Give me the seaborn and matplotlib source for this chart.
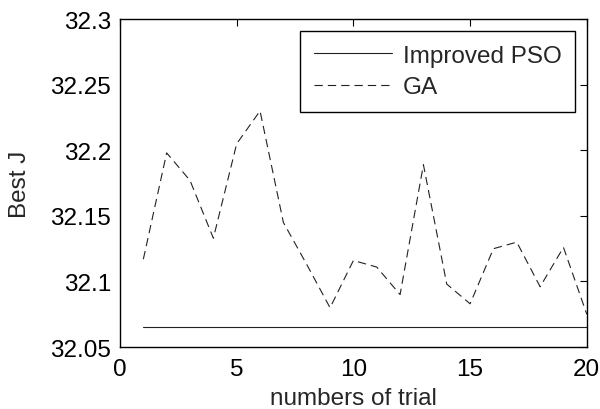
import matplotlib
matplotlib.use("Agg")
import matplotlib.pyplot as plt
import seaborn as sns
import pandas as pd
import numpy as np

trials = list(range(1, 21))
pso_values = [32.065] * 20
ga_values = [32.117, 32.198, 32.177, 32.133, 32.205, 32.230, 32.145, 32.113,
             32.080, 32.116, 32.111, 32.090, 32.189, 32.098, 32.083, 32.125,
             32.130, 32.096, 32.126, 32.075]
series_names = ["Improved PSO", "GA"]
x_ticks = [0, 5, 10, 15, 20]
y_ticks = [32.05, 32.1, 32.15, 32.2, 32.25, 32.3]
y_tick_labels = ["32.05", "32.1", "32.15", "32.2", "32.25", "32.3"]

sns.set_style("white")
plt.rcParams['font.family'] = ['Liberation Sans', 'DejaVu Sans']
FS = 17.5

df = pd.DataFrame({
    "trial": trials * 2,
    "value": pso_values + ga_values,
    "series": [series_names[0]] * 20 + [series_names[1]] * 20,
})

fig = plt.figure(figsize=(6.0, 4.1), dpi=100)
ax = fig.add_axes([0.200, 0.151, 0.778, 0.800])

sns.lineplot(data=df, x="trial", y="value", style="series", hue="series",
             palette={series_names[0]: "#222222", series_names[1]: "#222222"},
             dashes={series_names[0]: "", series_names[1]: (7.5, 4.5)},
             linewidth=0.8, ax=ax, legend=True)

ax.set_xlim(0, 20)
ax.set_ylim(32.05, 32.3)
ax.set_xticks(x_ticks)
ax.set_xticklabels([str(t) for t in x_ticks])
ax.set_yticks(y_ticks)
ax.set_yticklabels(y_tick_labels)
ax.tick_params(direction="in", length=5, width=0.8, top=True, right=True,
               labelsize=FS, colors="black")
ax.tick_params(axis="x", pad=8)
ax.tick_params(axis="y", pad=6.5)
for s in ax.spines.values():
    s.set_visible(True)
    s.set_color("black")
    s.set_linewidth(1.0)

ax.set_xlabel("numbers of trial", fontsize=FS, labelpad=5)
ax.set_ylabel("Best J", fontsize=FS, labelpad=14)

handles, labels = ax.get_legend_handles_labels()
leg = ax.legend(handles, labels, loc="upper right", fontsize=FS, frameon=True,
                fancybox=False, edgecolor="black", framealpha=1,
                borderaxespad=0.5, handlelength=3.2, handletextpad=0.45,
                labelspacing=0.4, borderpad=0.55)
leg.get_frame().set_linewidth(1.0)

fig.savefig("out.png", dpi=100)
